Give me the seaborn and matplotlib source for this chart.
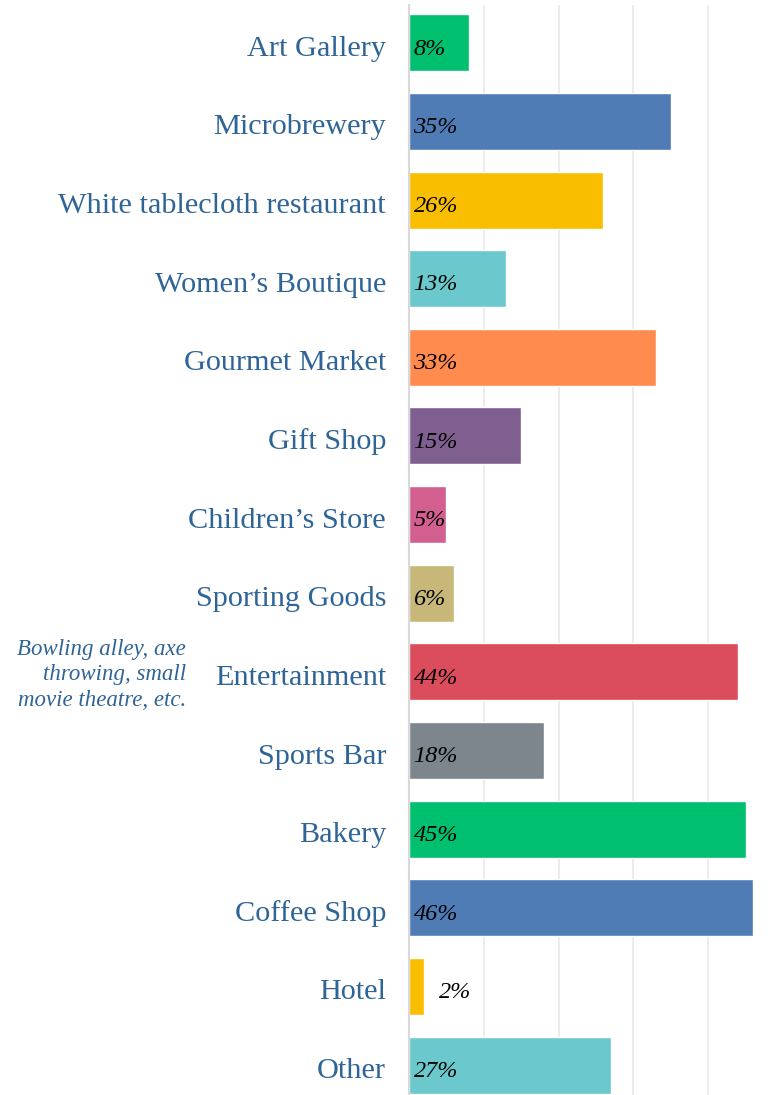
import matplotlib
matplotlib.use("Agg")
import matplotlib.pyplot as plt
import matplotlib.transforms as mtransforms
import seaborn as sns
import pandas as pd

categories = [
    "Art Gallery", "Microbrewery", "White tablecloth restaurant",
    "Women\u2019s Boutique", "Gourmet Market", "Gift Shop",
    "Children\u2019s Store", "Sporting Goods", "Entertainment",
    "Sports Bar", "Bakery", "Coffee Shop", "Hotel", "Other",
]
values = [8, 35, 26, 13, 33, 15, 5, 6, 44, 18, 45, 46, 2, 27]
colors = [
    "#00BF6F", "#507CB6", "#F9BE00", "#6BC8CD", "#FF8B4F", "#7F5F90",
    "#D25F90", "#C7B879", "#DB4D5C", "#7D868C", "#00BF6F", "#507CB6",
    "#F9BE00", "#6BC8CD",
]
note_text = "Bowling alley, axe\nthrowing, small\nmovie theatre, etc."

df = pd.DataFrame({"category": categories, "value": values})

sns.set_theme(style="white")
plt.rcParams["font.family"] = ["Liberation Serif", "DejaVu Serif"]

label_color = "#2E6496"

fig = plt.figure(figsize=(7.68, 10.95), dpi=100)
ax = fig.add_axes([409 / 768, 0.0, 359 / 768, 1090 / 1095])

sns.barplot(data=df, x="value", y="category", hue="category",
            palette=colors, legend=False, width=0.725, ax=ax,
            saturation=1, orient="h")

ax.set_xlim(0, 48)
ax.set_ylim(13.38, -0.48)
ax.set_xticks([10, 20, 30, 40])
ax.xaxis.grid(True, color="#EBEBEB", linewidth=1.3)
ax.set_axisbelow(True)
ax.tick_params(axis="x", length=0, labelbottom=False)
ax.tick_params(axis="y", length=0, pad=16.5)
for side in ["top", "right", "bottom"]:
    ax.spines[side].set_visible(False)
ax.spines["left"].set_color("#D9D9D9")
ax.spines["left"].set_linewidth(1.5)
ax.set_xlabel("")
ax.set_ylabel("")

# nudge category labels slightly below the bar centres
shift = mtransforms.ScaledTranslation(0, -3 / 100, fig.dpi_scale_trans)
for lbl in ax.get_yticklabels():
    lbl.set_fontsize(21.8)
    lbl.set_color(label_color)
    lbl.set_transform(lbl.get_transform() + shift)

for i, v in enumerate(values):
    x = v + 2 if v < 4 else 0.6
    ax.text(x, i + 0.08, f"{v}%", ha="left", va="center",
            fontsize=17.5, fontstyle="italic", color="black")

ent = categories.index("Entertainment")
ax.annotate(note_text, xy=(0, ent), xycoords=("axes fraction", "data"),
            xytext=(-223, -3), textcoords="offset pixels",
            ha="right", va="center", fontsize=16.5, fontstyle="italic",
            color=label_color, linespacing=1.3)

fig.savefig("out.png", dpi=100)
